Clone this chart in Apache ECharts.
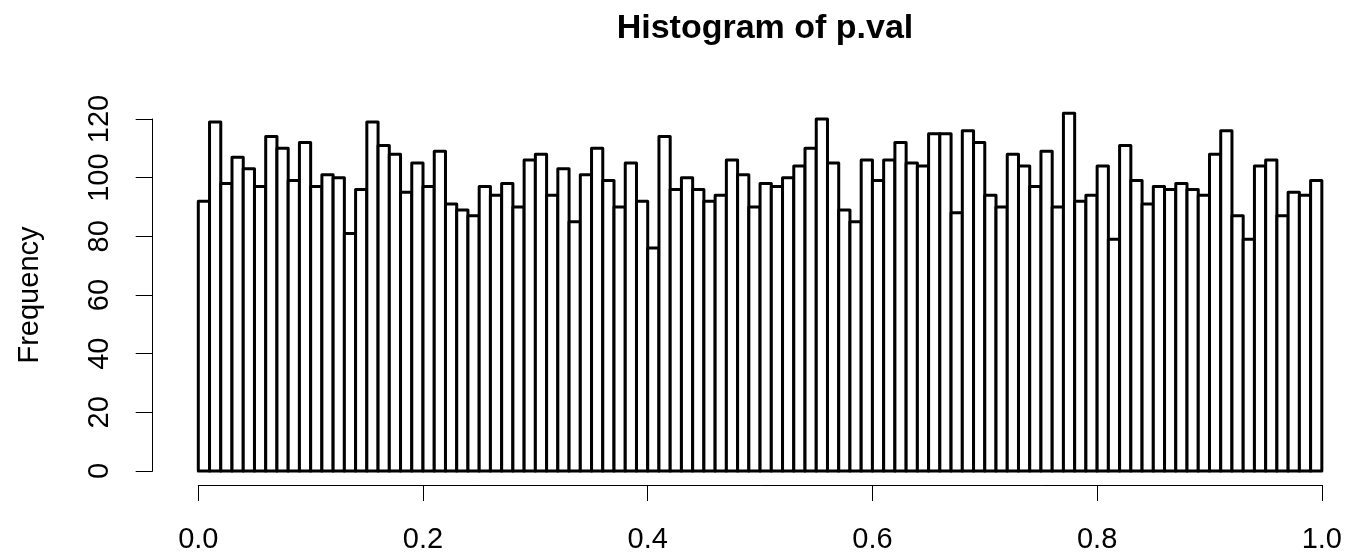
<!DOCTYPE html>
<html>
<head>
<meta charset="utf-8">
<script src="https://cdn.jsdelivr.net/npm/echarts@6/dist/echarts.min.js"></script>
<style>
html,body{margin:0;padding:0;background:#fff;}
#chart{width:1345px;height:554px;}
</style>
</head>
<body>
<div id="chart"></div>
<script>
// Histogram counts for bins of width 0.01 on [0, 1]
const binWidth = 0.01;
const counts = [
  92,119,98,107,103,97,114,110,99,112,
  97,101,100,81,96,119,111,108,95,105,
  97,109,91,89,87,97,94,98,90,106,
  108,94,103,85,101,110,99,90,105,92,
  76,114,96,100,96,92,94,106,101,90,
  98,97,100,104,110,120,105,89,85,106,
  99,106,112,105,104,115,115,88,116,112,
  94,90,108,104,97,109,90,122,92,94,
  104,79,111,99,91,97,96,98,96,94,
  108,116,87,79,104,106,87,95,94,99
];
const xTicks = [0, 0.2, 0.4, 0.6, 0.8, 1.0];
const yTicks = [0, 20, 40, 60, 80, 100, 120];

const data = counts.map((c, i) => [i * binWidth, (i + 1) * binWidth, c]);

const FONT = 'Liberation Sans, Arial, Helvetica, sans-serif';
const chart = echarts.init(document.getElementById('chart'), null, {renderer: 'canvas'});
chart.setOption({
  backgroundColor: '#ffffff',
  animation: false,
  title: {
    text: 'Histogram of p.val',
    left: 760,
    textAlign: 'center',
    top: 7,
    textStyle: {fontFamily: FONT, fontSize: 34, fontWeight: 'bold', color: '#000'}
  },
  grid: {left: 198.3, right: 22.7, top: 119, bottom: 82, containLabel: false},
  xAxis: {
    type: 'value',
    min: xTicks[0],
    max: xTicks[xTicks.length - 1],
    interval: 0.2,
    offset: 14,
    axisLine: {show: true, onZero: false, lineStyle: {color: '#000', width: 1}},
    axisTick: {show: true, length: 16, inside: false, lineStyle: {color: '#000', width: 1}},
    axisLabel: {
      margin: 40,
      fontFamily: FONT, fontSize: 29, color: '#000',
      formatter: v => v.toFixed(1)
    },
    splitLine: {show: false}
  },
  yAxis: {
    type: 'value',
    min: yTicks[0],
    max: yTicks[yTicks.length - 1],
    interval: 20,
    offset: 45.6,
    name: 'Frequency',
    nameLocation: 'middle',
    nameRotate: 90,
    nameGap: 108,
    nameTextStyle: {fontFamily: FONT, fontSize: 29, color: '#000'},
    axisLine: {show: true, onZero: false, lineStyle: {color: '#000', width: 1}},
    axisTick: {show: true, length: 17, lineStyle: {color: '#000', width: 1}},
    axisLabel: {
      rotate: 90,
      margin: 38,
      fontFamily: FONT, fontSize: 29, color: '#000'
    },
    splitLine: {show: false}
  },
  series: [{
    type: 'custom',
    clip: false,
    data: data,
    renderItem: function (params, api) {
      const p0 = api.coord([api.value(0), 0]);
      const p1 = api.coord([api.value(1), api.value(2)]);
      return {
        type: 'rect',
        shape: {x: p0[0], y: p1[1], width: p1[0] - p0[0], height: p0[1] - p1[1]},
        style: {fill: '#ffffff', stroke: '#000000', lineWidth: 3, lineJoin: 'round'}
      };
    }
  }]
});
</script>
</body>
</html>
